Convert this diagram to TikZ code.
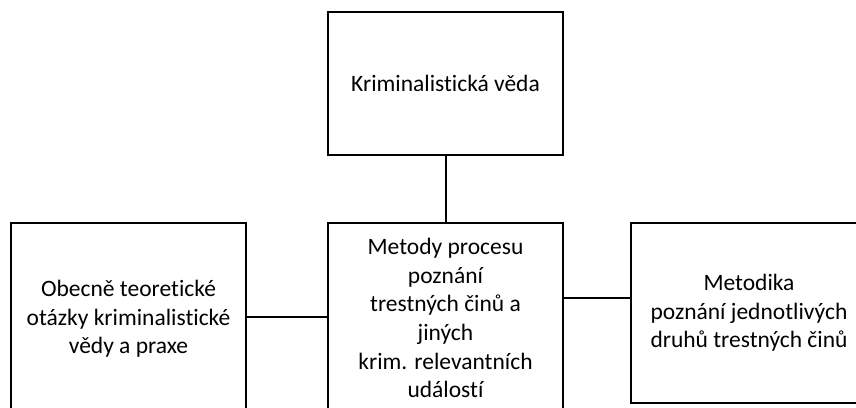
\documentclass[tikz,border=0pt]{standalone}
\usepackage{fontspec}
\setmainfont{Carlito}[Ligatures=CommonOff]
\begin{document}
\begin{tikzpicture}[x=1pt,y=-1pt,
  box/.style={draw=black,line width=2pt,fill=white,inner sep=0pt,align=center,
    font=\fontsize{23.5}{28.7}\selectfont},
  conn/.style={draw=black,line width=2pt}]
\useasboundingbox (0,0) rectangle (856,407);
\clip (0,0) rectangle (856,407);
\node[box,minimum width=235pt,minimum height=143pt] (top) at (445.5,83.5) {Kriminalistická věda};
\node[box,minimum width=235pt,minimum height=190pt] (mid) at (445.5,318) {Metody procesu\\poznání\\trestných činů a\\jiných\\krim. relevantních\\událostí};
\node[box,minimum width=235pt,minimum height=192pt] (left) at (128.5,319) {Obecně teoretické\\otázky kriminalistické\\vědy a praxe};
\node[box,minimum width=236pt,minimum height=180pt] (right) at (749,313) {Metodika\\poznání jednotlivých\\druhů trestných činů};
\draw[conn] (top.south) -- (mid.north);
\draw[conn] ([yshift=2pt]left.east) -- ([yshift=2pt]left.east -| mid.west);
\draw[conn] ([yshift=15pt]right.west) -- ([yshift=15pt]right.west -| mid.east);
\end{tikzpicture}
\end{document}
